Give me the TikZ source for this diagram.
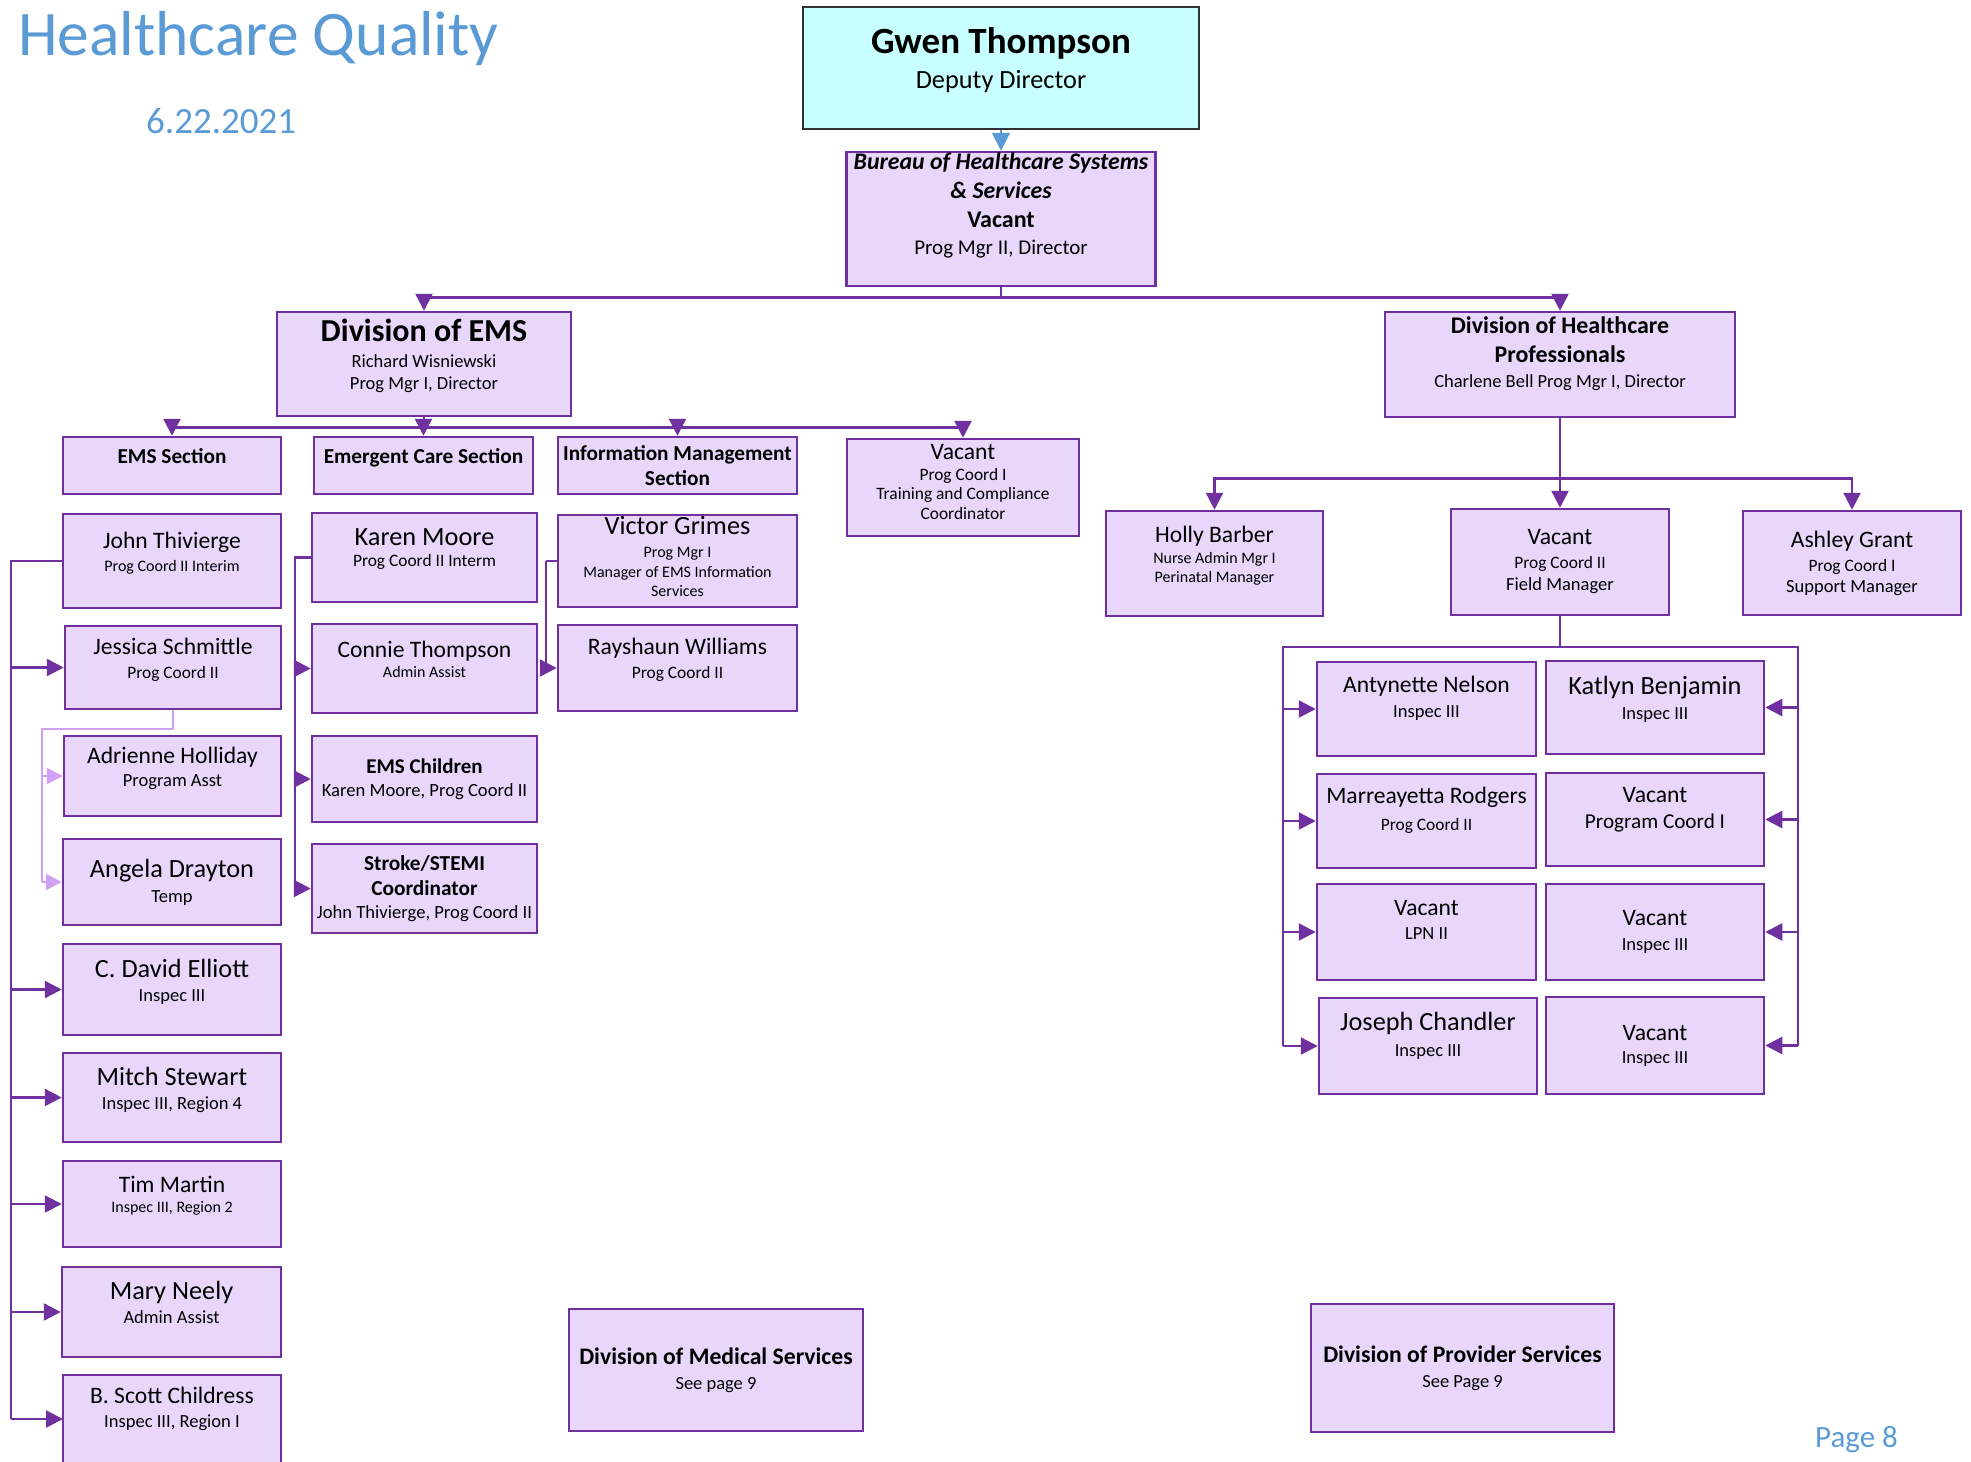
\documentclass[tikz,border=0pt]{standalone}
\usepackage{fontspec}
\setmainfont{Carlito}
\usepackage{tikz}
\usetikzlibrary{arrows.meta, positioning}

\definecolor{TitleBlue}{RGB}{91,155,213}
\definecolor{LinePurple}{RGB}{112,48,160}
\definecolor{BoxLavender}{RGB}{232,215,250}
\definecolor{HelperPurple}{RGB}{208,160,242}
\definecolor{TopCyan}{RGB}{200,255,255}
\definecolor{TopBorder}{RGB}{50,50,50}

\newcommand{\PName}{\fontsize{23.6}{26}\selectfont}
\newcommand{\PNameL}{\fontsize{26.3}{29}\selectfont}
\newcommand{\PRole}{\fontsize{16}{19}\selectfont}
\newcommand{\PRoleM}{\fontsize{17.4}{20}\selectfont}
\newcommand{\PRoleL}{\fontsize{18.5}{21}\selectfont}
\newcommand{\PRoleX}{\fontsize{18.6}{22}\selectfont}
\newcommand{\PHead}{\fontsize{21.3}{24}\bfseries\selectfont}

\tikzstyle{unit} = [rectangle, draw=LinePurple, line width=2.5pt, fill=BoxLavender, align=center, inner sep=0pt, font=\fontsize{16}{23}\selectfont]
\tikzstyle{lifted} = [text depth=19pt]
\tikzstyle{chief} = [rectangle, draw=TopBorder, line width=1.5pt, fill=TopCyan, align=center, inner sep=0pt]
\tikzstyle{heading} = [anchor=base west, inner sep=0pt, text=TitleBlue]
\tikzstyle{wire} = [LinePurple, line width=2.5pt]
\tikzstyle{link} = [wire, -{Triangle[length=17pt, width=17pt]}]
\tikzstyle{helperwire} = [HelperPurple, line width=2.5pt]
\tikzstyle{helper} = [helperwire, -{Triangle[length=16pt, width=16pt]}]
\tikzstyle{topfeed} = [TitleBlue, line width=2pt, -{Triangle[length=18pt, width=18pt]}]

\begin{document}
\begin{tikzpicture}[x=1pt, y=-1pt]
      \useasboundingbox (0,0) rectangle (1971,1462);

      % Page heading
      \node[heading, font=\fontsize{63.5}{70}\selectfont] (title) at (18,55) {Healthcare Quality};
      \node[heading, font=\fontsize{37}{40}\selectfont] (date) at (146,133) {6.22.2021};
      \node[heading, font=\fontsize{31}{34}\selectfont] (pageno) at (1815,1447) {Page 8};

      % Deputy director and bureau
      \node[chief, minimum width=396, minimum height=122, text depth=20pt, font=\fontsize{26.3}{35}\selectfont] (gwen) at (1001,68) {
        {\fontsize{37}{40}\bfseries\selectfont Gwen Thompson}\\
        Deputy Director
      };

      \node[unit, minimum width=309, minimum height=134, text depth=30pt, font=\fontsize{21}{29}\selectfont] (bureau) at (1001,219) {
        {\fontsize{23.8}{26}\bfseries\itshape\selectfont Bureau of Healthcare Systems}\\
        {\fontsize{23.8}{26}\bfseries\itshape\selectfont \& Services}\\
        {\fontsize{24}{26}\bfseries\selectfont Vacant}\\[-2pt]
        Prog Mgr II, Director
      };

      % Divisions
      \node[unit, minimum width=294, minimum height=104, text depth=20pt] (divems) at (424,364) {
        {\fontsize{32}{35}\bfseries\selectfont Division of EMS}\\[3pt]
        {\PRoleL Richard Wisniewski}\\[-1pt]
        {\PRoleL Prog Mgr I, Director}
      };

      \node[unit, minimum width=350, minimum height=105, text depth=24pt] (divhp) at (1560,364.5) {
        {\fontsize{23.9}{26}\bfseries\selectfont Division of Healthcare}\\[6pt]
        {\fontsize{23.9}{26}\bfseries\selectfont Professionals}\\[2pt]
        {\PRoleL Charlene Bell Prog Mgr I, Director}
      };

      % Sections of the EMS division
      \node[unit, lifted, minimum width=218, minimum height=57] (emssec) at (172,465.5) {\PHead EMS Section};
      \node[unit, lifted, minimum width=219, minimum height=57] (emergent) at (423.5,465.5) {\PHead Emergent Care Section};
      \node[unit, minimum width=239, minimum height=57] (infosec) at (677.5,465.5) {
        {\PHead Information Management}\\[2pt]
        {\PHead Section}
      };
      \node[unit, minimum width=232, minimum height=97, text depth=12pt] (training) at (963,487.5) {
        {\PName Vacant}\\[-2pt]
        {\PRoleM Prog Coord I}\\[-4pt]
        {\PRoleM Training and Compliance}\\[-3pt]
        {\PRoleM Coordinator}
      };

      % EMS Section staff
      \node[unit, lifted, minimum width=218, minimum height=94] (john) at (172,561) {{\PName John Thivierge}\\{\PRole Prog Coord II Interim}};
      \node[unit, lifted, minimum width=216, minimum height=83] (jessica) at (173,667.5) {{\PName Jessica Schmittle}\\[1pt]{\PRoleM Prog Coord II}};
      \node[unit, lifted, minimum width=217, minimum height=80] (adrienne) at (172.5,776) {{\PName Adrienne Holliday}\\{\PRoleL Program Asst}};
      \node[unit, minimum width=218, minimum height=86] (angela) at (172,882) {{\PNameL Angela Drayton}\\[2pt]{\PRoleL Temp}};
      \node[unit, lifted, minimum width=218, minimum height=91] (david) at (172,989.5) {{\PNameL C. David Elliott}\\[1pt]{\PRoleL Inspec III}};
      \node[unit, lifted, minimum width=218, minimum height=89] (mitch) at (172,1097.5) {{\PNameL Mitch Stewart}\\[1pt]{\PRoleL Inspec III, Region 4}};
      \node[unit, lifted, minimum width=218, minimum height=86] (tim) at (172,1204) {{\PName Tim Martin}\\[-3pt]{\PRole Inspec III, Region 2}};
      \node[unit, lifted, minimum width=219, minimum height=90] (mary) at (171.5,1312) {{\PNameL Mary Neely}\\[1pt]{\PRoleL Admin Assist}};
      \node[unit, minimum width=218, minimum height=126, text depth=62pt] (scott) at (172,1438) {{\PName B. Scott Childress}\\[1pt]{\PRoleL Inspec III, Region I}};

      % Emergent Care staff
      \node[unit, lifted, minimum width=225, minimum height=89] (karen) at (424.5,557.5) {{\PNameL Karen Moore}\\[-2pt]{\PRoleM Prog Coord II Interm}};
      \node[unit, lifted, minimum width=225, minimum height=89] (connie) at (424.5,668.5) {{\PName Connie Thompson}\\[-3pt]{\PRole Admin Assist}};
      \node[unit, minimum width=225, minimum height=86] (emschild) at (424.5,779) {
        {\fontsize{21}{24}\bfseries\selectfont EMS Children}\\
        {\PRoleX Karen Moore, Prog Coord II}
      };
      \node[unit, minimum width=225, minimum height=89] (stroke) at (424.5,888.5) {
        {\PHead Stroke/STEMI}\\[2pt]
        {\PHead Coordinator}\\
        {\PRoleX John Thivierge, Prog Coord II}
      };

      % Information Management staff
      \node[unit, minimum width=239, minimum height=92, text depth=10pt] (victor) at (677.5,561) {
        {\PNameL Victor Grimes}\\
        {\PRole Prog Mgr I}\\[-3pt]
        {\PRole Manager of EMS Information}\\[-4pt]
        {\PRole Services}
      };
      \node[unit, lifted, minimum width=239, minimum height=86] (rayshaun) at (677.5,668) {{\PName Rayshaun Williams}\\[1pt]{\PRoleM Prog Coord II}};

      % Healthcare Professionals managers
      \node[unit, lifted, minimum width=217, minimum height=105] (holly) at (1214.5,563.5) {
        {\PName Holly Barber}\\[-2pt]
        {\PRole Nurse Admin Mgr I}\\[-4pt]
        {\PRole Perinatal Manager}
      };
      \node[unit, minimum width=218, minimum height=106] (fieldmgr) at (1560,562) {
        {\PName Vacant}\\[1pt]
        {\PRoleM Prog Coord II}\\[-1pt]
        {\PRoleL Field Manager}
      };
      \node[unit, minimum width=218, minimum height=104] (ashley) at (1852,563) {
        {\PName Ashley Grant}\\[1pt]
        {\PRoleM Prog Coord I}\\[-2pt]
        {\PRoleL Support Manager}
      };

      % Field staff, left column
      \node[unit, minimum width=219, minimum height=94, text depth=24pt] (antynette) at (1426.5,709) {{\PName Antynette Nelson}\\[2pt]{\PRoleL Inspec III}};
      \node[unit, minimum width=219, minimum height=94, text depth=24pt] (marre) at (1426.5,821) {{\PName Marreayetta Rodgers}\\[4pt]{\PRoleM Prog Coord II}};
      \node[unit, minimum width=219, minimum height=96, text depth=24pt] (lpn) at (1426.5,932) {{\PName Vacant}\\[1pt]{\PRoleL LPN II}};
      \node[unit, minimum width=218, minimum height=96, text depth=24pt] (joseph) at (1428,1046) {{\PNameL Joseph Chandler}\\[3pt]{\PRoleL Inspec III}};

      % Field staff, right column
      \node[unit, lifted, minimum width=218, minimum height=93] (katlyn) at (1655,707.5) {{\PNameL Katlyn Benjamin}\\[2pt]{\PRoleL Inspec III}};
      \node[unit, minimum width=218, minimum height=93, text depth=24pt] (progcoord) at (1655,819.5) {{\PName Vacant}\\[3pt]{\fontsize{21.2}{24}\selectfont Program Coord I}};
      \node[unit, minimum width=218, minimum height=96] (inspecA) at (1655,932) {{\PName Vacant}\\[2pt]{\PRoleL Inspec III}};
      \node[unit, minimum width=218, minimum height=97] (inspecB) at (1655,1045.5) {{\PName Vacant}\\{\PRoleL Inspec III}};

      % Divisions on the next page
      \node[unit, minimum width=294, minimum height=122] (medical) at (716,1370) {
        {\fontsize{23.7}{26}\bfseries\selectfont Division of Medical Services}\\[2pt]
        {\PRoleL See page 9}
      };
      \node[unit, minimum width=303, minimum height=128] (provider) at (1462.5,1368) {
        {\fontsize{23.7}{26}\bfseries\selectfont Division of Provider Services}\\[2pt]
        {\PRoleL See Page 9}
      };

      % Connections from the top
      \draw[topfeed] (gwen.south) -- (bureau.north);
      \draw[link] (bureau.south) -- ++(0,10) -| (divems.north);
      \draw[link] (bureau.south) -- ++(0,10) -| (divhp.north);

      \foreach \s in {emssec, emergent, infosec, training}
        \draw[link] (divems.south) -- ++(0,10) -| (\s.north);

      % EMS Section bus
      \coordinate (emsbus) at (11,561);
      \coordinate (scottin) at (63,1419);
      \draw[wire] (john.west) -- (emsbus) -- (emsbus |- scottin);
      \foreach \p in {jessica, david, mitch, tim, mary}
        \draw[link] (emsbus |- \p.west) -- (\p.west);
      \draw[link] (emsbus |- scottin) -- (scottin);

      % Assistants under Jessica
      \coordinate (helpbus) at (42,729);
      \draw[helperwire] (jessica.south) |- (helpbus) -- (helpbus |- angela.west);
      \foreach \p in {adrienne, angela}
        \draw[helper] (helpbus |- \p.west) -- (\p.west);

      % Emergent Care bus
      \coordinate (carebus) at (295,557.5);
      \draw[wire] (karen.west) -- (carebus) -- (carebus |- stroke.west);
      \foreach \p in {connie, emschild, stroke}
        \draw[link] (carebus |- \p.west) -- (\p.west);

      % Information Management bus
      \coordinate (infobus) at (546,561);
      \draw[wire] (victor.west) -- (infobus);
      \draw[link] (infobus) |- (rayshaun.west);

      % Healthcare Professionals
      \draw[link] (divhp.south) -- (fieldmgr.north);
      \draw[link] (divhp.south) -- ++(0,60) -| (holly.north);
      \draw[link] (divhp.south) -- ++(0,60) -| (ashley.north);

      % Field Manager grid
      \coordinate (gridL) at (1283,647);
      \coordinate (gridR) at (1798,647);
      \draw[wire] (fieldmgr.south) -- (fieldmgr.south |- gridL);
      \draw[wire] (gridL |- joseph.west) -- (gridL) -- (gridR) -- (gridR |- inspecB.east);
      \foreach \p in {antynette, marre, lpn, joseph}
        \draw[link] (gridL |- \p.west) -- (\p.west);
      \foreach \p in {katlyn, progcoord, inspecA, inspecB}
        \draw[link] (gridR |- \p.east) -- (\p.east);
    \end{tikzpicture}
\end{document}
